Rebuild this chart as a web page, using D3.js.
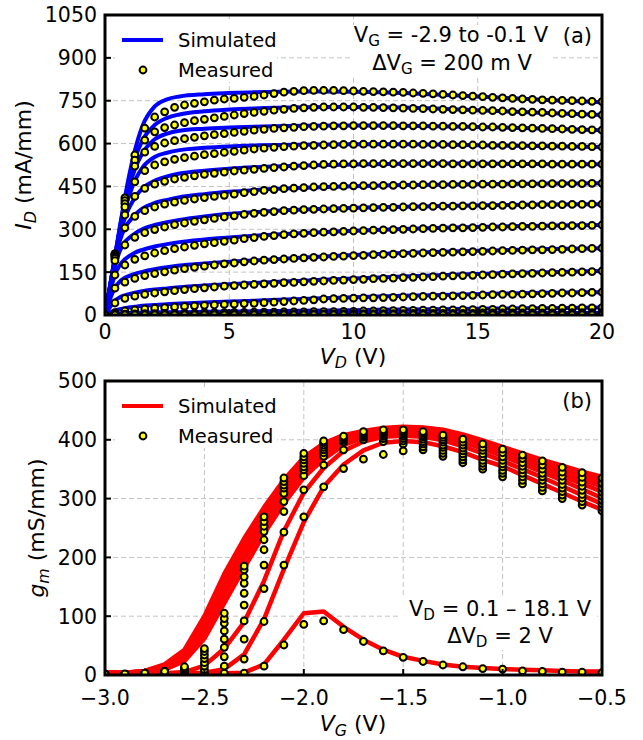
<!DOCTYPE html>
<html>
<head>
<meta charset="utf-8">
<script src="https://cdn.jsdelivr.net/npm/d3@7"></script>
<style>
  body { margin: 0; background: #fff; }
  text { font-family: "DejaVu Sans", sans-serif; }
</style>
</head>
<body>
<script>
// ---------- panel (a): output characteristics, VG = -0.1 (top row) ... -2.9 (bottom row)
const vdMeas = [0,0.4,0.8,1.2,1.6,2,2.4,2.8,3.2,3.6,4,4.4,4.8,5.2,5.6,6,6.4,6.8,7.2,7.6,8,8.4,8.8,9.2,9.6,10,
  10.4,10.8,11.2,11.6,12,12.4,12.8,13.2,13.6,14,14.4,14.8,15.2,15.6,16,16.4,16.8,17.2,17.6,18,18.4,18.8,19.2,19.6,20];
const idMeas = [
  [0,215,410,560,654,693,711,727,735,741,746,752,756,758,762,765,770,775,780,783,785,786,786,786,785,784,783,782,781,780,779,777,776,774,772,770,768,766,764,762,760,758,756,755,753,752,751,750,749,748,747],
  [0,213,400,542,612,641,656,665,673,680,685,690,695,700,705,709,713,717,720,723,725,727,728,728,728,728,727,727,726,725,724,723,722,721,720,719,718,717,716,715,714,712,711,710,709,707,706,705,703,702,700],
  [0,210,390,521,570,590,602,610,617,622,627,631,635,639,643,647,650,653,655,657,659,660,661,662,662,663,663,663,663,663,662,662,662,661,661,660,660,659,658,658,657,656,655,654,653,652,651,650,649,648,647],
  [0,207,378,466,505,525,536,545,551,556,561,565,569,573,577,581,584,587,589,591,593,594,595,596,597,597,598,598,598,598,598,598,597,597,597,596,596,595,595,594,594,593,593,592,592,591,591,590,590,589,588],
  [0,203,350,415,443,458,468,476,482,487,492,496,500,504,507,510,513,516,518,521,523,525,527,528,529,529,530,530,530,530,530,530,530,530,530,529,529,529,529,529,529,529,529,529,529,528,528,528,528,528,528],
  [0,198,305,345,365,378,388,395,401,406,411,415,419,423,428,432,436,439,442,444,446,448,449,450,451,452,453,453,454,454,455,455,456,456,456,457,457,457,458,458,458,459,459,459,459,460,460,460,460,461,461],
  [0,190,245,272,288,299,308,316,322,328,333,338,343,347,352,356,359,362,365,367,369,370,371,372,373,374,375,376,377,377,378,379,379,380,381,381,382,382,383,383,384,384,385,385,386,386,386,387,387,388,388],
  [0,140,175,195,207,217,225,232,238,244,249,253,258,262,267,271,275,278,281,284,286,288,290,291,293,294,295,297,298,299,300,301,302,303,304,305,305,306,307,308,308,309,310,310,311,312,312,313,313,314,315],
  [0,94,115,128,138,145,151,157,162,167,171,175,179,182,186,189,192,194,196,198,200,202,203,205,206,208,209,211,212,213,215,216,217,218,219,220,221,222,223,224,225,226,227,228,228,229,230,231,232,233,234],
  [0,42,58,66,72,77,81,85,89,92,95,98,101,103,105,107,109,111,113,114,116,118,119,121,122,124,125,127,128,129,131,132,133,134,136,137,138,139,140,141,143,144,145,146,147,148,149,150,151,152,154],
  [0,8,14,18,21,24,26,28,30,32,34,35,37,38,40,41,43,45,47,49,51,53,56,57,58,59,60,60,61,62,63,64,65,66,66,67,68,69,70,71,72,72,73,74,75,76,77,77,78,79,80],
  [0,2,3,4,5,5,6,6,7,7,8,8,8,9,9,10,10,10,11,11,11,12,12,12,13,13,14,14,15,15,16,16,17,17,18,18,19,19,20,20,21,21,22,22,23,23,24,24,25,25,26],
  [0,1,1,1,1,2,2,2,2,2,2,3,3,3,3,3,3,3,4,4,4,4,4,4,5,5,5,5,5,5,5,6,6,6,6,6,6,6,7,7,7,7,7,7,7,7,8,8,8,8,8],
  [0,0,0,0,0,1,1,1,1,1,1,1,1,1,1,1,1,1,1,1,1,1,2,2,2,2,2,2,2,2,2,2,2,2,2,2,2,2,2,2,3,3,3,3,3,3,3,3,3,3,3],
  [0,0,0,0,0,0,0,0,0,0,0,0,0,0,0,0,0,0,0,0,0,0,0,0,0,0,0,0,0,0,0,0,0,0,0,0,0,0,0,0,0,0,0,0,0,0,0,0,0,0,0]
];
const vdSim = [0,0.2,0.4,0.6,0.8,1,1.2,1.5,2,2.5,3,4,5,6,8,10,12,14,16,18,20];
const idSim = [
  [0,100,205,310,410,500,575,660,730,755,765,773,777,780,782,781,777,769,760,752,745],
  [0,100,203,305,400,480,545,610,665,690,702,713,719,723,727,728,726,720,713,706,700],
  [0,100,200,300,390,455,510,565,615,635,645,652,656,659,662,663,662,660,656,652,647],
  [0,98,197,293,370,425,470,515,553,568,577,585,590,593,596,598,598,596,593,591,588],
  [0,97,193,280,340,380,410,442,470,485,495,505,512,517,523,527,529,530,529,528,528],
  [0,95,185,260,305,330,350,372,392,403,412,423,431,437,445,451,455,457,459,460,461],
  [0,92,170,225,255,272,285,300,315,325,333,345,354,360,369,375,379,382,385,387,388],
  [0,80,140,175,195,208,218,228,240,248,255,264,271,277,287,295,301,306,310,313,315],
  [0,55,95,118,130,138,144,151,160,167,173,180,186,191,201,210,217,222,227,231,234],
  [0,28,50,62,69,74,78,83,89,93,97,103,108,112,120,128,135,141,146,150,154],
  [0,8,15,20,24,27,29,32,35,38,40,44,47,50,56,62,67,71,75,78,80],
  [0,2,4,5,6,7,7,8,9,10,10,11,12,13,15,17,19,21,23,24,26],
  [0,0,1,1,1,2,2,2,2,3,3,3,4,4,5,5,6,6,7,7,8],
  [0,0,0,0,0,0,0,0,1,1,1,1,1,1,1,2,2,2,2,3,3],
  [0,0,0,0,0,0,0,0,0,0,0,0,0,0,0,0,0,0,0,0,0]
];
const vdTicks = [0, 5, 10, 15, 20];
const idTicks = [0, 150, 300, 450, 600, 750, 900, 1050];

// ---------- panel (b): transconductance, VD = 0.1 ... 18.1 V
const vdBias = [0.1, 2.1, 4.1, 6.1, 8.1, 10.1, 12.1, 14.1, 16.1, 18.1];
const vgPts = [-3,-2.9,-2.8,-2.7,-2.6,-2.5,-2.4,-2.3,-2.2,-2.1,-2,-1.9,-1.8,-1.7,-1.6,-1.5,-1.4,-1.3,-1.2,-1.1,-1,-0.9,-0.8,-0.7,-0.6,-0.5];
const gmMeas = [
  [1,1,2,3,1,0,1,3,15,51,86,92,77,57,41,30,23,17,14,11,10,7,6,5,5,4],
  [1,1,2,4,1,1,3,27,91,187,269,320,351,367,375,381,383,372,361,350,337,325,313,300,289,279],
  [1,1,2,4,2,4,15,61,147,243,315,357,383,400,397,393,388,377,366,355,343,331,319,306,295,285],
  [1,1,2,4,3,9,31,92,187,278,339,372,396,404,402,398,393,382,371,360,348,337,325,312,301,291],
  [1,1,2,5,4,15,47,119,213,295,349,378,399,406,406,402,397,387,376,365,354,343,331,318,307,297],
  [1,1,2,5,5,21,61,139,230,309,354,383,401,408,409,406,401,391,381,371,359,349,337,324,314,304],
  [1,1,2,5,7,28,75,156,244,318,360,387,403,410,411,409,405,396,386,376,365,355,343,331,321,311],
  [1,1,3,6,9,34,88,167,253,323,366,391,404,412,413,412,408,400,391,382,371,361,350,338,328,318],
  [1,1,3,6,11,40,96,179,261,329,371,395,405,413,415,415,411,404,396,387,378,368,357,345,336,326],
  [2,2,3,6,14,45,105,185,269,335,377,398,406,414,417,417,414,408,401,393,384,374,364,353,344,335]
];
const gmSim = [
  [3,3,3,3,3,3,3,4,18,60,105,108,82,60,43,31,24,18,14,12,10,9,8,7,6,6],
  [3,3,3,3,3,4,10,35,95,180,260,320,358,382,395,398,396,389,379,366,355,340,325,310,295,281],
  [3,3,3,3,5,16,45,90,160,245,310,352,381,397,405,407,405,399,389,377,364,350,336,321,306,291],
  [3,3,4,9,24,62,122,182,240,292,336,367,391,404,411,413,411,405,396,385,372,359,345,331,316,301],
  [3,3,5,11,28,72,136,196,253,303,345,374,395,407,414,416,414,408,400,389,377,364,351,338,325,312],
  [3,3,5,12,31,79,146,206,262,311,351,379,398,409,416,418,416,411,403,392,380,368,356,344,332,321],
  [4,4,6,13,34,85,154,214,270,317,356,383,401,411,417,419,418,413,405,394,383,372,360,349,338,328],
  [4,4,6,15,37,90,160,220,275,322,361,387,403,412,418,420,419,415,407,396,385,374,363,352,341,331],
  [4,4,7,16,40,95,166,226,280,327,365,390,405,413,419,421,420,416,408,397,386,375,364,354,344,334],
  [4,4,7,18,43,100,172,232,285,332,370,394,408,415,420,422,421,417,409,399,388,377,366,356,346,337]
];
const vgTicks = [-3, -2.5, -2, -1.5, -1, -0.5];
const gmTicks = [0, 100, 200, 300, 400, 500];
const legendLabels = ["Simulated", "Measured"];

const FS_TICK = 20.5, FS_LABEL = 22, FS_NOTE = 21, FS_LEG = 19.5;
const svg = d3.select("body").append("svg")
  .attr("width", 643).attr("height", 740);

// text with mathtext-like subscripts: parts = [[string, flags]], flags "i" italic, "s" subscript
function rich(t, parts, shift) {
  let prevSub = false;
  parts.forEach(p => {
    const s = t.append("tspan").text(p[0]);
    const f = p[1] || "";
    const sub = f.includes("s");
    if (f.includes("i")) s.attr("font-style", "italic");
    if (sub) s.attr("font-size", "0.72em").attr("dy", shift);
    else if (prevSub) s.attr("dy", -shift);
    prevSub = sub;
  });
  return t;
}

function axesBox(id, x, y, xTicks, yTicks, xFmt, yFmt, tickBase) {
  const g = svg.append("g");
  const [x0, x1] = x.range(), [y0, y1] = y.range();
  g.append("clipPath").attr("id", id).append("rect")
    .attr("x", x0).attr("y", y1).attr("width", x1 - x0).attr("height", y0 - y1);
  g.selectAll(".gx").data(xTicks).join("line")
    .attr("x1", d => x(d)).attr("x2", d => x(d)).attr("y1", y0).attr("y2", y1);
  g.selectAll(".gy").data(yTicks).join("line")
    .attr("y1", d => y(d)).attr("y2", d => y(d)).attr("x1", x0).attr("x2", x1);
  g.selectAll("line").attr("stroke", "#c2c2c2").attr("stroke-width", 1).attr("stroke-dasharray", "5,3");
  return {
    g,
    finish() {
      // inward ticks
      g.selectAll(".tx").data(xTicks).join("line")
        .attr("x1", d => x(d)).attr("x2", d => x(d)).attr("y1", y0).attr("y2", y0 - 6)
        .attr("stroke", "#000").attr("stroke-width", 2);
      g.selectAll(".ty").data(yTicks).join("line")
        .attr("y1", d => y(d)).attr("y2", d => y(d)).attr("x1", x0).attr("x2", x0 + 6)
        .attr("stroke", "#000").attr("stroke-width", 2);
      g.append("rect").attr("x", x0).attr("y", y1).attr("width", x1 - x0).attr("height", y0 - y1)
        .attr("fill", "none").attr("stroke", "#000").attr("stroke-width", 3);
      g.selectAll(".lx").data(xTicks).join("text")
        .attr("x", d => x(d)).attr("y", tickBase).attr("text-anchor", "middle")
        .style("font-size", FS_TICK + "px").text(xFmt);
      g.selectAll(".ly").data(yTicks).join("text")
        .attr("x", x0 - 8).attr("y", d => y(d)).attr("dy", "0.36em").attr("text-anchor", "end")
        .style("font-size", FS_TICK + "px").text(yFmt);
    }
  };
}

function whiteBox(g, x, y, w, h) {
  g.append("rect").attr("x", x).attr("y", y).attr("width", w).attr("height", h).attr("fill", "#fff");
}

function dots(g, clip, pts, x, y) {
  g.append("g").attr("clip-path", `url(#${clip})`)
    .selectAll("circle").data(pts).join("circle")
    .attr("cx", d => x(d[0])).attr("cy", d => y(d[1])).attr("r", 3.4)
    .attr("fill", "#ffff00").attr("stroke", "#000").attr("stroke-width", 2);
}

function legend(g, color, top) {
  whiteBox(g, 115, top - 18, 162, 60);
  g.append("line").attr("x1", 122).attr("x2", 163).attr("y1", top).attr("y2", top)
    .attr("stroke", color).attr("stroke-width", 4);
  g.append("circle").attr("cx", 143).attr("cy", top + 30).attr("r", 3.4)
    .attr("fill", "#ffff00").attr("stroke", "#000").attr("stroke-width", 2);
  legendLabels.forEach((s, i) => {
    g.append("text").attr("x", 178).attr("y", top + 7 + i * 29.5)
      .style("font-size", FS_LEG + "px").text(s);
  });
}

// ================= panel (a)
const xA = d3.scaleLinear().domain([0, 20]).range([105, 602]);
const yA = d3.scaleLinear().domain([0, 1050]).range([315, 15]);
const A = axesBox("clipA", xA, yA, vdTicks, idTicks, d3.format("d"), d3.format("d"), 339);

legend(A.g, "#0000ff", 40);
whiteBox(A.g, 350, 25, 202, 52);

const lineA = d3.line().x(d => xA(d[0])).y(d => yA(d[1])).curve(d3.curveMonotoneX);
A.g.append("g").attr("clip-path", "url(#clipA)")
  .selectAll("path").data(idSim).join("path")
  .attr("d", row => lineA(vdSim.map((v, i) => [v, row[i]])))
  .attr("fill", "none").attr("stroke", "#0000ff").attr("stroke-width", 4)
  .attr("stroke-linejoin", "round");
dots(A.g, "clipA", idMeas.flatMap(row => vdMeas.map((v, i) => [v, row[i]])), xA, yA);
A.finish();

rich(A.g.append("text").attr("x", 451).attr("y", 42).attr("text-anchor", "middle").style("font-size", FS_NOTE + "px"),
  [["V"], ["G", "s"], [" = -2.9 to -0.1 V"]], 4);
rich(A.g.append("text").attr("x", 452).attr("y", 69.5).attr("text-anchor", "middle").style("font-size", FS_NOTE + "px"),
  [["ΔV"], ["G", "s"], [" = 200 m V"]], 4);
A.g.append("text").attr("x", 592).attr("y", 43).attr("text-anchor", "end")
  .style("font-size", FS_NOTE + "px").text("(a)");

rich(A.g.append("text").attr("x", 353).attr("y", 364).attr("text-anchor", "middle").style("font-size", FS_LABEL + "px"),
  [["V", "i"], ["D", "is"], [" (V)"]], 4);
rich(A.g.append("text").attr("transform", "translate(31,165) rotate(-90)").attr("text-anchor", "middle").style("font-size", FS_LABEL + "px"),
  [["I", "i"], ["D", "is"], [" (mA/mm)"]], 5);

// ================= panel (b)
const xB = d3.scaleLinear().domain([-3, -0.5]).range([105, 602]);
const yB = d3.scaleLinear().domain([0, 500]).range([675, 381]);
const B = axesBox("clipB", xB, yB, vgTicks, gmTicks, d3.format(".1f"), d3.format("d"), 705);

legend(B.g, "#ff0000", 406);
whiteBox(B.g, 401, 596, 196, 54);

const lineB = d3.line().x(d => xB(d[0])).y(d => yB(d[1]));
B.g.append("g").attr("clip-path", "url(#clipB)")
  .selectAll("path").data(gmSim).join("path")
  .attr("d", row => lineB(vgPts.map((v, i) => [v, row[i]])))
  .attr("fill", "none").attr("stroke", "#ff0000").attr("stroke-width", 4.5)
  .attr("stroke-linejoin", "round");
dots(B.g, "clipB", gmMeas.flatMap(row => vgPts.map((v, i) => [v, row[i]])), xB, yB);
B.finish();

rich(B.g.append("text").attr("x", 500).attr("y", 616).attr("text-anchor", "middle").style("font-size", FS_NOTE + "px"),
  [["V"], ["D", "s"], [` = ${vdBias[0]} – ${vdBias[vdBias.length - 1]} V`]], 4);
rich(B.g.append("text").attr("x", 500).attr("y", 643).attr("text-anchor", "middle").style("font-size", FS_NOTE + "px"),
  [["ΔV"], ["D", "s"], [` = ${vdBias[1] - vdBias[0]} V`]], 4);
B.g.append("text").attr("x", 592).attr("y", 408).attr("text-anchor", "end")
  .style("font-size", FS_NOTE + "px").text("(b)");

rich(B.g.append("text").attr("x", 353).attr("y", 731).attr("text-anchor", "middle").style("font-size", FS_LABEL + "px"),
  [["V", "i"], ["G", "is"], [" (V)"]], 5);
rich(B.g.append("text").attr("transform", "translate(44,528) rotate(-90)").attr("text-anchor", "middle").style("font-size", FS_LABEL + "px"),
  [["g", "i"], ["m", "is"], [" (mS/mm)"]], 5);
</script>
</body>
</html>
